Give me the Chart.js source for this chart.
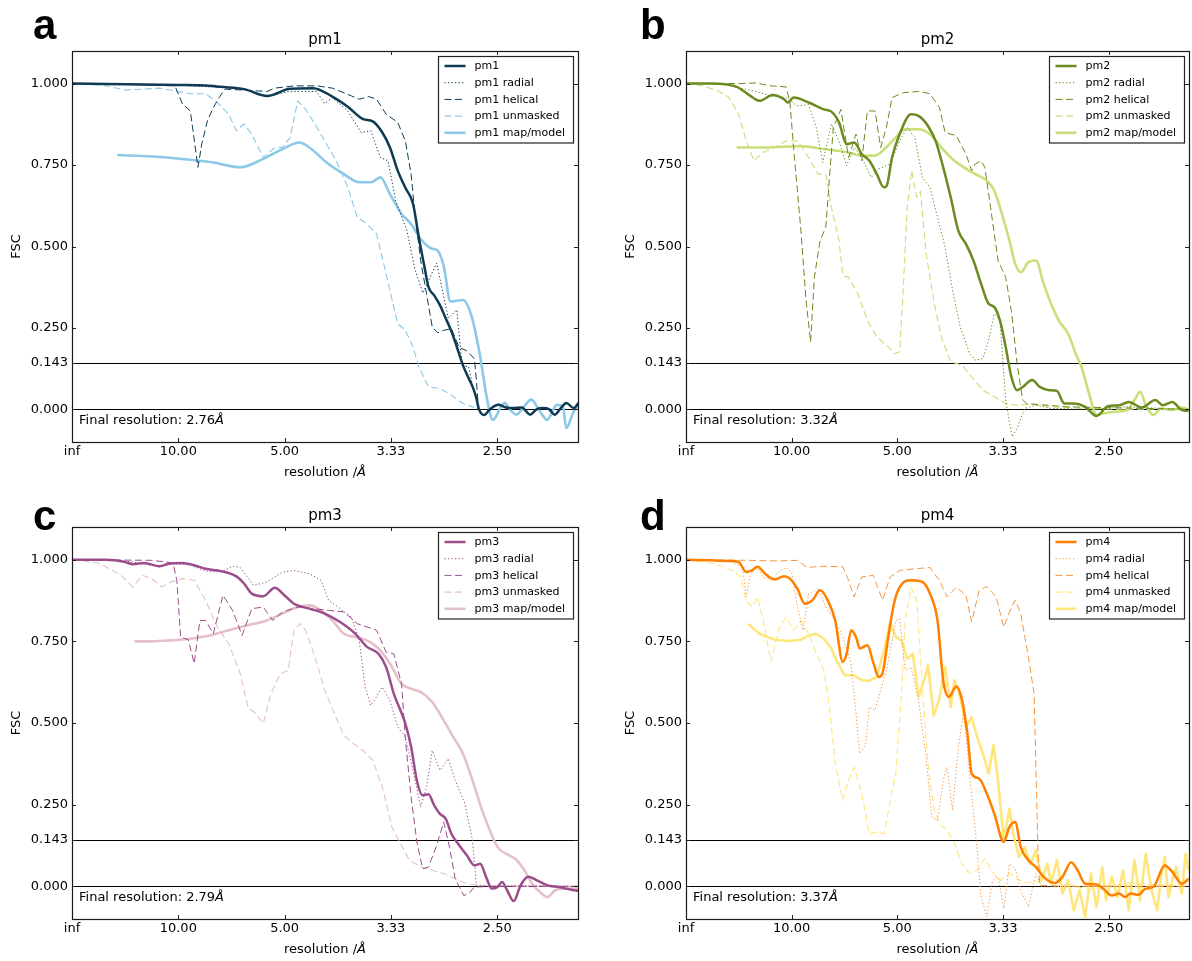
<!DOCTYPE html>
<html><head><meta charset="utf-8">
<script src="https://cdn.jsdelivr.net/npm/chart.js@4.4.1/dist/chart.umd.min.js"></script>
<style>
html,body{margin:0;padding:0;background:#fff;}
body{width:1192px;height:961px;position:relative;overflow:hidden;}
canvas{position:absolute;}
</style></head><body>
<canvas id="pa" width="596" height="480" style="left:0;top:0"></canvas>
<canvas id="pb" width="596" height="480" style="left:596px;top:0"></canvas>
<canvas id="pc" width="596" height="481" style="left:0;top:480px"></canvas>
<canvas id="pd" width="596" height="481" style="left:596px;top:480px"></canvas>
<script>
// ---------- tick / label data ----------
const xTickValues = [0, 0.1, 0.2, 0.3, 0.4];            // spatial frequency 1/Å
const xTickLabels = ['inf', '10.00', '5.00', '3.33', '2.50'];
const yTickValues = [0, 0.143, 0.25, 0.5, 0.75, 1.0];
const fscThresholds = [0.143, 0.0];
const panelNames = ['pm1', 'pm2', 'pm3', 'pm4'];
const panelLetters = ['a', 'b', 'c', 'd'];
const finalResolutions = ['2.76', '3.32', '2.79', '3.37'];
const seriesSuffixes = ['', ' radial', ' helical', ' unmasked', ' map/model'];

// ---------- pm1 ----------
const pm1Main = [[0,1.0],[0.05,0.998],[0.10,0.996],[0.126,0.994],[0.14,0.99],[0.162,0.983],[0.1835,0.962],[0.2052,0.984],[0.227,0.986],[0.2449,0.96],[0.2594,0.929],[0.2738,0.891],[0.2829,0.884],[0.2919,0.85],[0.2991,0.804],[0.3064,0.733],[0.3136,0.68],[0.3208,0.631],[0.3262,0.529],[0.3316,0.437],[0.3353,0.376],[0.3407,0.35],[0.3461,0.32],[0.3515,0.28],[0.3569,0.24],[0.3622,0.19],[0.3678,0.135],[0.3732,0.095],[0.3768,0.07],[0.3804,0.035],[0.3829,0.0],[0.3876,-0.017],[0.393,0.0],[0.401,0.014],[0.408,0.006],[0.415,0.004],[0.423,0.006],[0.431,-0.016],[0.437,0.0],[0.443,0.004],[0.449,0.0],[0.454,-0.016],[0.46,0.005],[0.465,0.02],[0.472,0.004],[0.4765,0.02]];
const pm1Radial = [[0,1.0],[0.1,0.995],[0.16,0.985],[0.1835,0.962],[0.205,0.976],[0.23,0.976],[0.2377,0.939],[0.2449,0.957],[0.2594,0.916],[0.272,0.85],[0.2811,0.855],[0.2901,0.773],[0.2973,0.763],[0.3045,0.64],[0.315,0.55],[0.3226,0.43],[0.33,0.357],[0.343,0.449],[0.354,0.28],[0.362,0.306],[0.367,0.132],[0.373,0.132],[0.379,0.04],[0.3822,0.0]];
const pm1Helical = [[0,1.0],[0.05,0.998],[0.0968,0.993],[0.104,0.937],[0.1113,0.916],[0.1185,0.743],[0.1221,0.815],[0.1275,0.887],[0.1329,0.926],[0.1384,0.957],[0.1438,0.983],[0.1835,0.976],[0.1908,0.986],[0.2088,0.993],[0.2305,0.993],[0.2449,0.986],[0.263,0.962],[0.2702,0.952],[0.2793,0.96],[0.2865,0.952],[0.2955,0.906],[0.3064,0.881],[0.3136,0.824],[0.319,0.722],[0.3226,0.6],[0.328,0.457],[0.3335,0.355],[0.3389,0.253],[0.3441,0.235],[0.3497,0.243],[0.3569,0.248],[0.3642,0.19],[0.3714,0.18],[0.3786,0.155],[0.3804,0.09],[0.3822,0.008]];
const pm1Unmasked = [[0,1.0],[0.03,0.995],[0.0499,0.98],[0.0824,0.986],[0.1113,0.969],[0.1257,0.969],[0.1366,0.942],[0.1474,0.906],[0.1546,0.855],[0.1618,0.876],[0.1691,0.845],[0.1799,0.773],[0.1908,0.804],[0.198,0.804],[0.2052,0.835],[0.2124,0.947],[0.2197,0.921],[0.2305,0.865],[0.2377,0.824],[0.2486,0.763],[0.2594,0.682],[0.2684,0.59],[0.2775,0.569],[0.2865,0.539],[0.2955,0.416],[0.3064,0.263],[0.3136,0.243],[0.3208,0.192],[0.3262,0.131],[0.3353,0.069],[0.3461,0.064],[0.3569,0.044],[0.3678,0.018],[0.3786,0.006]];
const pm1MapModel = [[0.0426,0.781],[0.0751,0.776],[0.1113,0.766],[0.1329,0.758],[0.1582,0.743],[0.1763,0.763],[0.198,0.799],[0.2142,0.819],[0.2233,0.804],[0.2413,0.753],[0.2558,0.722],[0.2702,0.697],[0.2811,0.697],[0.2901,0.712],[0.2991,0.661],[0.31,0.6],[0.319,0.569],[0.328,0.523],[0.3389,0.493],[0.3435,0.489],[0.3497,0.44],[0.356,0.331],[0.3678,0.336],[0.376,0.285],[0.384,0.162],[0.39,0.04],[0.396,-0.032],[0.4039,0.01],[0.407,0.02],[0.4111,0.003],[0.418,-0.016],[0.4256,0.01],[0.432,0.03],[0.44,-0.005],[0.447,-0.032],[0.456,0.014],[0.4617,0.01],[0.465,-0.057],[0.472,-0.006],[0.4765,0.01]];

// ---------- pm2 ----------
const pm2Main = [[0,1.0],[0.0229,1.0],[0.048,0.99],[0.0588,0.967],[0.0695,0.947],[0.0821,0.965],[0.0928,0.952],[0.0964,0.942],[0.1018,0.957],[0.1161,0.942],[0.1305,0.921],[0.1376,0.914],[0.1448,0.881],[0.152,0.814],[0.1591,0.819],[0.1663,0.784],[0.1735,0.763],[0.1806,0.722],[0.1871,0.682],[0.1896,0.684],[0.195,0.773],[0.2022,0.845],[0.2129,0.906],[0.2201,0.901],[0.229,0.87],[0.2362,0.824],[0.2434,0.743],[0.2505,0.651],[0.2577,0.549],[0.2649,0.508],[0.272,0.457],[0.2792,0.386],[0.2864,0.324],[0.2918,0.314],[0.2971,0.273],[0.3025,0.192],[0.3079,0.1],[0.3133,0.059],[0.3186,0.069],[0.3276,0.09],[0.3348,0.069],[0.3437,0.059],[0.3509,0.057],[0.3581,0.018],[0.367,0.018],[0.3778,0.008],[0.3885,-0.02],[0.3993,0.01],[0.41,0.013],[0.419,0.023],[0.4315,0.006],[0.4441,0.029],[0.4513,0.013],[0.4602,0.023],[0.4692,-0.002],[0.4756,-0.004]];
const pm2Radial = [[0,1.0],[0.0337,1.0],[0.0516,0.986],[0.0659,0.976],[0.0803,0.962],[0.0946,0.957],[0.1054,0.932],[0.1161,0.935],[0.1233,0.865],[0.1294,0.758],[0.1376,0.876],[0.1448,0.824],[0.152,0.748],[0.1591,0.804],[0.1663,0.773],[0.1753,0.712],[0.1824,0.738],[0.1932,0.753],[0.2022,0.824],[0.2093,0.865],[0.2165,0.835],[0.2237,0.712],[0.2308,0.682],[0.238,0.59],[0.2452,0.498],[0.2523,0.365],[0.2595,0.253],[0.2685,0.171],[0.2738,0.151],[0.281,0.156],[0.2864,0.212],[0.2918,0.294],[0.2971,0.273],[0.3025,0.029],[0.3086,-0.084],[0.3133,-0.058],[0.3204,0.003],[0.3312,0.013],[0.3455,0.003],[0.3814,0.0],[0.4172,0.008],[0.453,0.003],[0.4756,0.0]];
const pm2Helical = [[0,1.0],[0.0516,1.0],[0.0659,1.002],[0.0803,0.993],[0.0946,0.99],[0.0982,0.947],[0.1018,0.804],[0.109,0.539],[0.1136,0.335],[0.1179,0.207],[0.1215,0.406],[0.1269,0.518],[0.1323,0.559],[0.1358,0.712],[0.1394,0.865],[0.1466,0.921],[0.1538,0.773],[0.1609,0.845],[0.1663,0.763],[0.1717,0.916],[0.1789,0.916],[0.1842,0.804],[0.1896,0.865],[0.195,0.957],[0.2057,0.972],[0.2201,0.976],[0.2308,0.969],[0.2398,0.927],[0.2452,0.85],[0.2559,0.84],[0.2649,0.784],[0.2703,0.733],[0.2738,0.753],[0.2792,0.763],[0.2828,0.743],[0.2882,0.62],[0.2953,0.457],[0.3025,0.406],[0.3079,0.304],[0.3133,0.141],[0.3186,0.029],[0.3222,0.018],[0.36,0.008],[0.42,0.004],[0.4756,0.0]];
const pm2Unmasked = [[0,1.0],[0.0158,0.993],[0.0301,0.978],[0.0409,0.957],[0.0498,0.906],[0.057,0.824],[0.0642,0.763],[0.0731,0.789],[0.0839,0.804],[0.0946,0.824],[0.1054,0.824],[0.1161,0.773],[0.1251,0.722],[0.1323,0.722],[0.1376,0.62],[0.1448,0.518],[0.1484,0.411],[0.1538,0.406],[0.1627,0.355],[0.1717,0.273],[0.1806,0.222],[0.1914,0.192],[0.1968,0.171],[0.2022,0.177],[0.2057,0.376],[0.2093,0.62],[0.2136,0.733],[0.2183,0.651],[0.2219,0.669],[0.2272,0.478],[0.2344,0.335],[0.2416,0.222],[0.2505,0.146],[0.2613,0.136],[0.2703,0.1],[0.281,0.059],[0.2918,0.039],[0.3025,0.018],[0.3133,0.013],[0.3276,0.016],[0.3455,0.008],[0.3814,0.003],[0.4172,0.0],[0.4756,0.003]];
const pm2MapModel = [[0.048,0.804],[0.0767,0.804],[0.109,0.808],[0.1305,0.799],[0.152,0.789],[0.1663,0.779],[0.1789,0.779],[0.1878,0.799],[0.1986,0.835],[0.2075,0.86],[0.2201,0.86],[0.2308,0.845],[0.2416,0.804],[0.2523,0.768],[0.2631,0.743],[0.2738,0.722],[0.2846,0.702],[0.2918,0.671],[0.2989,0.6],[0.3061,0.518],[0.3115,0.447],[0.3168,0.421],[0.324,0.452],[0.3312,0.457],[0.3384,0.386],[0.3455,0.324],[0.3527,0.273],[0.3616,0.233],[0.3688,0.171],[0.3742,0.131],[0.3814,0.049],[0.3885,-0.017],[0.3957,-0.012],[0.4065,-0.007],[0.4172,-0.002],[0.4244,0.029],[0.4297,0.054],[0.4351,0.013],[0.4423,-0.017],[0.4495,0.003],[0.4602,-0.002],[0.4692,0.006],[0.4756,0.0]];

// ---------- pm3 ----------
const pm3Main = [[0,1.0],[0.0318,1.0],[0.0499,0.993],[0.0571,0.986],[0.0679,0.99],[0.0824,0.98],[0.0914,0.988],[0.104,0.99],[0.1149,0.983],[0.1257,0.972],[0.1402,0.965],[0.1546,0.949],[0.1618,0.927],[0.1691,0.896],[0.1799,0.888],[0.1908,0.914],[0.1998,0.891],[0.2088,0.865],[0.2233,0.85],[0.2377,0.835],[0.2522,0.809],[0.2666,0.773],[0.2775,0.733],[0.2883,0.712],[0.2955,0.671],[0.3027,0.59],[0.3136,0.498],[0.319,0.427],[0.3244,0.324],[0.3298,0.279],[0.3353,0.282],[0.3407,0.248],[0.3461,0.222],[0.3515,0.207],[0.3569,0.161],[0.3642,0.126],[0.3714,0.095],[0.3786,0.064],[0.384,0.069],[0.3895,0.029],[0.3949,-0.007],[0.4003,-0.002],[0.4046,0.013],[0.4093,-0.012],[0.4155,-0.045],[0.422,0.003],[0.4292,0.029],[0.4364,0.02],[0.4473,0.003],[0.4581,-0.002],[0.4689,-0.01],[0.4765,-0.014]];
const pm3Radial = [[0,1.0],[0.039,0.998],[0.0571,0.993],[0.0824,0.978],[0.0968,0.988],[0.1113,0.983],[0.1257,0.965],[0.1402,0.962],[0.151,0.98],[0.1582,0.976],[0.1709,0.921],[0.1835,0.932],[0.198,0.962],[0.2088,0.967],[0.2233,0.957],[0.2341,0.937],[0.2413,0.876],[0.2522,0.85],[0.263,0.824],[0.2702,0.753],[0.2757,0.61],[0.2811,0.554],[0.2865,0.58],[0.2919,0.61],[0.2991,0.569],[0.3064,0.488],[0.3136,0.457],[0.3208,0.355],[0.328,0.243],[0.3335,0.304],[0.3389,0.416],[0.3461,0.355],[0.354,0.391],[0.3605,0.324],[0.3696,0.253],[0.3768,0.141],[0.3804,0.003],[0.39,0.0],[0.42,0.002],[0.4765,0.0]];
const pm3Helical = [[0,1.0],[0.0751,0.998],[0.095,0.99],[0.0986,0.937],[0.1022,0.763],[0.1095,0.755],[0.1149,0.682],[0.1203,0.814],[0.1257,0.814],[0.1329,0.773],[0.142,0.891],[0.151,0.845],[0.16,0.768],[0.1691,0.85],[0.1799,0.855],[0.189,0.814],[0.198,0.84],[0.2124,0.855],[0.2269,0.85],[0.2413,0.845],[0.2558,0.84],[0.2684,0.804],[0.2775,0.794],[0.2865,0.784],[0.2955,0.717],[0.3027,0.712],[0.31,0.62],[0.3136,0.452],[0.319,0.273],[0.3244,0.136],[0.3298,0.054],[0.3353,0.059],[0.3425,0.12],[0.3497,0.197],[0.3551,0.12],[0.3605,0.023],[0.3685,-0.028],[0.3732,-0.022],[0.3786,-0.002],[0.40,0.0],[0.4765,0.0]];
const pm3Unmasked = [[0,1.0],[0.0246,0.99],[0.0354,0.972],[0.0462,0.952],[0.0571,0.916],[0.0661,0.952],[0.0751,0.942],[0.0842,0.916],[0.0932,0.932],[0.104,0.942],[0.1149,0.937],[0.1257,0.876],[0.1366,0.794],[0.1474,0.743],[0.1582,0.651],[0.1655,0.549],[0.1727,0.529],[0.1799,0.498],[0.1871,0.59],[0.1962,0.651],[0.2034,0.661],[0.2088,0.784],[0.2142,0.804],[0.2197,0.784],[0.2287,0.702],[0.2377,0.6],[0.2467,0.529],[0.2558,0.462],[0.2648,0.437],[0.2738,0.416],[0.2829,0.386],[0.2919,0.304],[0.3009,0.182],[0.3082,0.136],[0.3172,0.08],[0.328,0.059],[0.3389,0.049],[0.3497,0.039],[0.3605,0.023],[0.3714,0.008],[0.3858,0.003],[0.42,0.0],[0.4765,0.0]];
const pm3MapModel = [[0.0589,0.75],[0.0751,0.75],[0.0932,0.753],[0.1113,0.758],[0.1293,0.768],[0.1474,0.784],[0.1655,0.799],[0.1835,0.814],[0.198,0.835],[0.2124,0.855],[0.2233,0.86],[0.2341,0.845],[0.2449,0.814],[0.2558,0.773],[0.2666,0.763],[0.2775,0.753],[0.2883,0.728],[0.2991,0.682],[0.31,0.62],[0.319,0.605],[0.328,0.595],[0.3389,0.564],[0.3497,0.508],[0.3587,0.457],[0.3678,0.406],[0.3768,0.324],[0.3858,0.233],[0.3931,0.171],[0.4003,0.12],[0.4111,0.095],[0.4184,0.08],[0.4256,0.049],[0.4328,0.008],[0.44,-0.017],[0.4473,-0.033],[0.4545,-0.012],[0.4617,-0.007],[0.4689,-0.007],[0.4765,-0.007]];

// ---------- pm4 ----------
const pm4Main = [[0,1.0],[0.0229,0.998],[0.0409,0.996],[0.0498,0.993],[0.057,0.962],[0.0624,0.967],[0.0677,0.978],[0.0749,0.957],[0.0839,0.939],[0.0928,0.949],[0.0982,0.942],[0.1054,0.911],[0.1125,0.865],[0.1197,0.876],[0.1269,0.906],[0.1341,0.876],[0.1412,0.814],[0.1484,0.687],[0.152,0.712],[0.1563,0.784],[0.1609,0.763],[0.1645,0.728],[0.1717,0.738],[0.1771,0.687],[0.1824,0.641],[0.186,0.653],[0.1914,0.763],[0.1968,0.865],[0.2022,0.916],[0.2129,0.937],[0.2237,0.932],[0.2308,0.896],[0.238,0.814],[0.2434,0.631],[0.2487,0.58],[0.2559,0.612],[0.2613,0.569],[0.2667,0.457],[0.2703,0.345],[0.2774,0.33],[0.2846,0.284],[0.2918,0.222],[0.3007,0.136],[0.3061,0.182],[0.3115,0.197],[0.3168,0.12],[0.324,0.08],[0.3312,0.059],[0.3384,0.029],[0.3491,0.01],[0.3563,0.029],[0.3645,0.074],[0.3706,0.049],[0.3778,0.008],[0.3885,0.006],[0.3957,-0.01],[0.4029,-0.028],[0.41,-0.022],[0.4154,-0.033],[0.4208,-0.022],[0.428,-0.026],[0.4351,-0.007],[0.4423,-0.002],[0.453,0.064],[0.4602,0.044],[0.4692,0.008],[0.4756,0.023]];
const pm4Radial = [[0,1.0],[0.0409,0.996],[0.0534,0.978],[0.057,0.886],[0.0606,0.947],[0.0659,0.983],[0.0731,0.947],[0.0803,0.937],[0.0875,0.962],[0.0946,0.976],[0.1,0.962],[0.1054,0.855],[0.1108,0.784],[0.1161,0.896],[0.1251,0.911],[0.1323,0.855],[0.1412,0.814],[0.1484,0.763],[0.1556,0.692],[0.1591,0.59],[0.1645,0.406],[0.1699,0.432],[0.1735,0.549],[0.1789,0.539],[0.1842,0.6],[0.1896,0.661],[0.1986,0.814],[0.2022,0.819],[0.2075,0.661],[0.2129,0.671],[0.2201,0.569],[0.2272,0.396],[0.2326,0.212],[0.238,0.202],[0.2434,0.324],[0.247,0.365],[0.2523,0.233],[0.2577,0.427],[0.2631,0.539],[0.2685,0.335],[0.2738,0.171],[0.2792,-0.033],[0.2846,-0.094],[0.29,0.018],[0.2953,0.029],[0.3007,-0.068],[0.3061,0.069],[0.3115,0.054],[0.3168,-0.012],[0.324,-0.063],[0.3312,0.039],[0.3366,-0.002],[0.36,0.0],[0.4756,0.0]];
const pm4Helical = [[0,1.0],[0.0588,0.998],[0.0875,0.996],[0.1054,0.998],[0.1143,0.976],[0.1305,0.98],[0.1484,0.978],[0.1538,0.937],[0.1591,0.886],[0.1663,0.947],[0.1771,0.952],[0.186,0.876],[0.1932,0.947],[0.2022,0.967],[0.2165,0.972],[0.2308,0.976],[0.2398,0.937],[0.247,0.886],[0.2559,0.916],[0.2649,0.891],[0.2703,0.809],[0.2774,0.906],[0.2846,0.918],[0.2935,0.886],[0.3007,0.794],[0.3061,0.84],[0.3115,0.876],[0.3168,0.835],[0.324,0.702],[0.3294,0.59],[0.333,0.12],[0.3348,0.003],[0.36,0.0],[0.4756,0.0]];
const pm4Unmasked = [[0,1.0],[0.0229,0.99],[0.0337,0.98],[0.0444,0.967],[0.0516,0.947],[0.057,0.875],[0.0624,0.855],[0.0677,0.886],[0.0731,0.814],[0.0803,0.687],[0.0875,0.784],[0.0946,0.824],[0.1018,0.784],[0.109,0.814],[0.1161,0.773],[0.1233,0.712],[0.1305,0.661],[0.1358,0.549],[0.1412,0.376],[0.1484,0.263],[0.1538,0.324],[0.1591,0.365],[0.1663,0.284],[0.1735,0.161],[0.1806,0.166],[0.1878,0.161],[0.1932,0.263],[0.1986,0.345],[0.2039,0.59],[0.2075,0.814],[0.2129,0.916],[0.2183,0.875],[0.2237,0.61],[0.229,0.376],[0.2344,0.243],[0.2398,0.192],[0.247,0.171],[0.2541,0.131],[0.2613,0.069],[0.2685,0.039],[0.2756,0.049],[0.2828,0.085],[0.29,0.044],[0.2971,0.018],[0.3061,0.039],[0.32,0.01],[0.35,0.02],[0.38,-0.01],[0.42,0.01],[0.4756,0.0]];
const pm4MapModel = [[0.0588,0.804],[0.0695,0.773],[0.0839,0.755],[0.0982,0.751],[0.109,0.755],[0.1161,0.768],[0.1233,0.773],[0.1305,0.758],[0.1376,0.728],[0.143,0.687],[0.1502,0.646],[0.1591,0.646],[0.1663,0.631],[0.1735,0.629],[0.1806,0.641],[0.1878,0.728],[0.1932,0.809],[0.1986,0.763],[0.2039,0.753],[0.2093,0.697],[0.2147,0.712],[0.2201,0.58],[0.2254,0.631],[0.229,0.677],[0.2344,0.523],[0.2398,0.574],[0.2452,0.671],[0.2505,0.549],[0.2541,0.631],[0.2595,0.58],[0.2649,0.488],[0.2703,0.518],[0.2756,0.457],[0.281,0.406],[0.2864,0.345],[0.291,0.432],[0.2953,0.324],[0.3007,0.141],[0.3061,0.238],[0.3097,0.161],[0.3151,0.09],[0.3204,0.12],[0.3258,0.069],[0.3312,0.11],[0.3366,0.018],[0.3419,0.069],[0.3455,0.008],[0.3509,0.08],[0.3563,-0.022],[0.3616,0.018],[0.367,-0.073],[0.3724,-0.012],[0.3778,-0.094],[0.3832,0.039],[0.3885,-0.063],[0.3939,0.059],[0.3975,-0.043],[0.4029,0.029],[0.4082,-0.033],[0.4136,0.049],[0.419,-0.073],[0.4244,0.08],[0.4297,-0.043],[0.4351,0.1],[0.4405,-0.012],[0.4459,-0.073],[0.4495,0.029],[0.453,0.09],[0.4566,-0.033],[0.4602,0.018],[0.4638,0.059],[0.4692,-0.022],[0.4728,0.1],[0.4756,0.049]];

// ---------- styling ----------
const FONT = '"DejaVu Sans", Verdana, sans-serif';
const panelStyles = [
  { dark: '#0f3a54', light: '#8cc8e8', help: '#0f3a54', smoothMap: true },
  { dark: '#6b8a1f', light: '#c8df7a', help: '#6b8a1f', smoothMap: true },
  { dark: '#9c4d8b', light: '#e5c0c9', help: '#9c4d8b', smoothMap: true },
  { dark: '#ff7f00', light: '#ffe67c', help: '#f7953c', smoothMap: false }
];
const panelSeries = [
  [pm1Main, pm1Radial, pm1Helical, pm1Unmasked, pm1MapModel],
  [pm2Main, pm2Radial, pm2Helical, pm2Unmasked, pm2MapModel],
  [pm3Main, pm3Radial, pm3Helical, pm3Unmasked, pm3MapModel],
  [pm4Main, pm4Radial, pm4Helical, pm4Unmasked, pm4MapModel]
];
const panelLayout = [
  { id: 'pa', area: { left: 72, top: 51, right: 578, bottom: 442 }, letter: { x: 33, y: 39 } },
  { id: 'pb', area: { left: 90, top: 51, right: 593, bottom: 442 }, letter: { x: 44, y: 39 } },
  { id: 'pc', area: { left: 72, top: 47, right: 578, bottom: 439 }, letter: { x: 33, y: 50 } },
  { id: 'pd', area: { left: 90, top: 47, right: 593, bottom: 439 }, letter: { x: 44, y: 50 } }
];

function drawTextWithItalicA(ctx, text, x, y, align) {
  ctx.font = '13px ' + FONT;
  const w1 = ctx.measureText(text).width;
  ctx.font = 'italic 13px ' + FONT;
  const w2 = ctx.measureText('Å').width;
  let sx = x;
  if (align === 'center') sx = x - (w1 + w2) / 2;
  ctx.textAlign = 'left';
  ctx.font = '13px ' + FONT;
  ctx.fillText(text, sx, y);
  ctx.font = 'italic 13px ' + FONT;
  ctx.fillText('Å', sx + w1, y);
}

const fscDecor = {
  id: 'fscDecor',
  beforeDatasetsDraw(chart, args, o) {
    const { ctx, chartArea: a } = chart;
    const ys = chart.scales.y;
    ctx.save();
    ctx.strokeStyle = '#000';
    ctx.lineWidth = 1.1;
    fscThresholds.forEach(v => {
      const py = Math.round(ys.getPixelForValue(v)) + 0.5;
      ctx.beginPath(); ctx.moveTo(a.left, py); ctx.lineTo(a.right, py); ctx.stroke();
    });
    ctx.restore();
  },
  afterDatasetsDraw(chart, args, o) {
    const { ctx, chartArea: a } = chart;
    const xs = chart.scales.x, ys = chart.scales.y;
    ctx.save();
    // inward ticks
    ctx.strokeStyle = '#222'; ctx.lineWidth = 1;
    const TL = 4;
    ctx.beginPath();
    xTickValues.forEach(v => {
      const px = Math.round(xs.getPixelForValue(v)) + 0.5;
      if (px <= a.left + 1) return;
      ctx.moveTo(px, a.top); ctx.lineTo(px, a.top + TL);
      ctx.moveTo(px, a.bottom); ctx.lineTo(px, a.bottom - TL);
    });
    yTickValues.forEach(v => {
      const py = Math.round(ys.getPixelForValue(v)) + 0.5;
      ctx.moveTo(a.left, py); ctx.lineTo(a.left + TL, py);
      ctx.moveTo(a.right, py); ctx.lineTo(a.right - TL, py);
    });
    ctx.stroke();
    // frame
    ctx.strokeStyle = '#1a1a1a'; ctx.lineWidth = 1.2;
    ctx.strokeRect(Math.round(a.left) + 0.5, Math.round(a.top) + 0.5, Math.round(a.right - a.left), Math.round(a.bottom - a.top));

    // title
    ctx.fillStyle = '#000';
    ctx.textBaseline = 'middle';
    ctx.textAlign = 'center';
    ctx.font = '15px ' + FONT;
    ctx.fillText(o.name, (a.left + a.right) / 2, a.top - 11);
    // panel letter
    ctx.textAlign = 'left';
    ctx.textBaseline = 'alphabetic';
    ctx.font = 'bold 42px "Liberation Sans", Arial, Helvetica, sans-serif';
    ctx.fillText(o.letter, o.letterPos.x, o.letterPos.y);
    // y axis title
    ctx.save();
    ctx.translate(a.left - 55, (a.top + a.bottom) / 2);
    ctx.rotate(-Math.PI / 2);
    ctx.textAlign = 'center'; ctx.textBaseline = 'middle';
    ctx.font = '13px ' + FONT;
    ctx.fillText('FSC', 0, 0);
    ctx.restore();
    // x axis title
    ctx.textBaseline = 'middle';
    drawTextWithItalicA(ctx, 'resolution /', (a.left + a.right) / 2, a.bottom + 31, 'center');
    // final resolution
    const y0 = ys.getPixelForValue(0);
    drawTextWithItalicA(ctx, 'Final resolution: ' + o.res, a.left + 7, y0 + 11, 'left');

    // legend
    const W = 135, rowH = 16.7;
    const bx = Math.round(a.right - 5 - W) + 0.5, by = Math.round(a.top + 5) + 0.5;
    const H = rowH * 5 + 3;
    ctx.fillStyle = '#fff';
    ctx.fillRect(bx, by, W, H);
    ctx.strokeStyle = '#222'; ctx.lineWidth = 1.2;
    ctx.strokeRect(bx, by, W, H);
    chart.data.datasets.forEach((ds, i) => {
      const cy = by + 9.5 + i * rowH;
      ctx.save();
      ctx.strokeStyle = ds.borderColor;
      ctx.lineWidth = ds.borderWidth;
      ctx.setLineDash(ds.borderDash || []);
      ctx.beginPath(); ctx.moveTo(bx + 6, cy); ctx.lineTo(bx + 27, cy); ctx.stroke();
      ctx.restore();
      ctx.fillStyle = '#000';
      ctx.font = '11px ' + FONT;
      ctx.textAlign = 'left'; ctx.textBaseline = 'middle';
      ctx.fillText(ds.label, bx + 36, cy + 0.5);
    });
    ctx.restore();
  }
};

function buildPanel(p) {
  const lay = panelLayout[p];
  const st = panelStyles[p];
  const canvas = document.getElementById(lay.id);
  const Wc = canvas.width, Hc = canvas.height;
  const ser = panelSeries[p];
  const mk = (arr) => arr.map(([x, y]) => ({ x, y }));
  const datasets = [
    { data: mk(ser[0]), borderColor: st.dark, borderWidth: 2.5, cubicInterpolationMode: 'monotone' },
    { data: mk(ser[1]), borderColor: st.help, borderWidth: 1, borderDash: [1.3, 2.2] },
    { data: mk(ser[2]), borderColor: st.help, borderWidth: 1, borderDash: [7, 3.5] },
    { data: mk(ser[3]), borderColor: st.light, borderWidth: 1.1, borderDash: [7, 3.5] },
    { data: mk(ser[4]), borderColor: st.light, borderWidth: 2.6, cubicInterpolationMode: st.smoothMap ? 'monotone' : 'default', tension: 0 }
  ].map((d, i) => Object.assign({ label: panelNames[p] + seriesSuffixes[i], fill: false, pointRadius: 0, borderCapStyle: 'butt', borderJoinStyle: 'round' }, d));

  new Chart(canvas, {
    type: 'line',
    data: { datasets },
    options: {
      responsive: false, animation: false, devicePixelRatio: 1,
      events: [],
      layout: { padding: { left: 0, top: lay.area.top, right: Wc - lay.area.right, bottom: 0 } },
      plugins: {
        legend: { display: false }, tooltip: { enabled: false }, title: { display: false },
        fscDecor: { name: panelNames[p], letter: panelLetters[p], letterPos: lay.letter, res: finalResolutions[p] }
      },
      scales: {
        x: {
          type: 'linear', min: 0, max: 0.476,
          afterBuildTicks: s => { s.ticks = xTickValues.map(v => ({ value: v })); },
          afterFit: s => { s.height = Hc - lay.area.bottom; },
          ticks: { callback: (v, i) => xTickLabels[i], font: { family: FONT, size: 13 }, color: '#000', padding: 2, maxRotation: 0, autoSkip: false },
          grid: { display: false, drawTicks: false }, border: { display: false }
        },
        y: {
          type: 'linear', min: -0.1, max: 1.1,
          afterBuildTicks: s => { s.ticks = yTickValues.map(v => ({ value: v })); },
          afterFit: s => { s.width = lay.area.left; },
          ticks: { callback: v => Number(v).toFixed(3), font: { family: FONT, size: 13 }, color: '#000', padding: 4, autoSkip: false },
          grid: { display: false, drawTicks: false }, border: { display: false }
        }
      }
    },
    plugins: [fscDecor]
  });
}
[0, 1, 2, 3].forEach(buildPanel);
</script>
</body></html>
